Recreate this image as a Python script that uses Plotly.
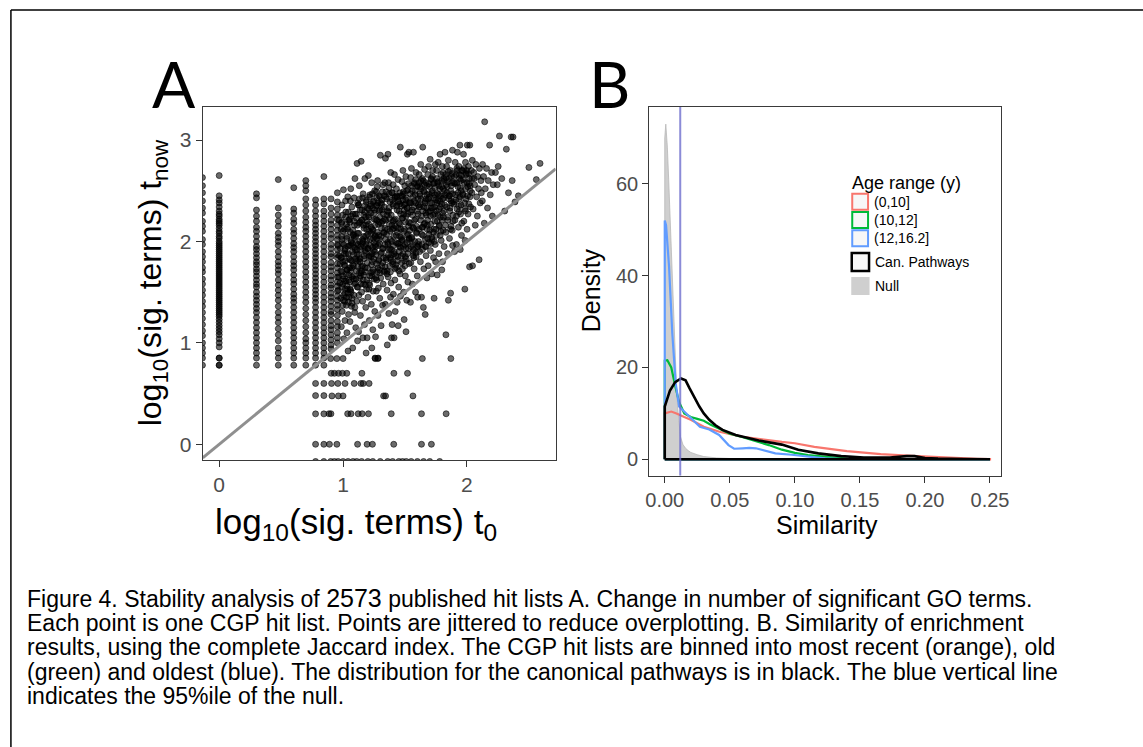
import plotly.graph_objects as go

W, H = 1143, 747


def px(x):
    return x / W


def py(y):
    return 1 - y / H


FONT = "Liberation Sans, Arial, Helvetica, sans-serif"

# ---------------- Panel A data: log10(sig. terms) at t0 (x) vs tnow (y) ----------------
# discrete columns of small t0 counts: (t0, list of tnow values)
left_columns = [
    (-0.135, [2.63, 2.55, 2.48, 2.40, 2.33, 2.28, 2.20, 2.15, 2.10, 2.02, 1.97, 1.90, 1.85, 1.80, 1.74, 1.70,
              1.63, 1.58, 1.52, 1.47, 1.41, 1.36, 1.30, 1.24, 1.18, 1.12, 1.07, 1.00, 0.95, 0.90, 0.85, 0.78]),
    (0.0, [2.65, 2.45, 2.41, 2.38, 2.34, 2.30, 2.27, 2.25, 2.22, 2.20, 2.18, 2.16, 2.13, 2.10, 2.08, 2.05, 2.03,
           2.00, 1.98, 1.96, 1.94, 1.92, 1.90, 1.88, 1.86, 1.84, 1.82, 1.80, 1.78, 1.76, 1.74, 1.72, 1.70, 1.68,
           1.66, 1.64, 1.62, 1.60, 1.58, 1.56, 1.54, 1.52, 1.50, 1.48, 1.46, 1.44, 1.42, 1.40, 1.38, 1.36, 1.34,
           1.32, 1.30, 1.28, 1.26, 1.23, 1.20, 1.17, 1.14, 1.11, 1.08, 1.04, 1.00, 0.96, 0.85, 0.78, 0.85, 0.78]),
    (0.301, [2.47, 2.43, 2.31, 2.25, 2.20, 2.14, 2.10, 2.05, 2.00, 1.95, 1.92, 1.88, 1.84, 1.80, 1.77, 1.73,
             1.70, 1.66, 1.62, 1.58, 1.55, 1.50, 1.46, 1.42, 1.38, 1.34, 1.30, 1.25, 1.20, 1.15, 1.10, 1.05,
             1.00, 0.95, 0.90, 0.85, 0.78]),
    (0.477, [2.61, 2.33, 2.26, 2.20, 2.15, 2.08, 2.04, 2.00, 1.96, 1.90, 1.85, 1.80, 1.76, 1.72, 1.68, 1.62,
             1.57, 1.52, 1.47, 1.42, 1.36, 1.30, 1.25, 1.20, 1.14, 1.08, 1.02, 0.95, 0.90, 0.85, 0.78]),
    (0.602, [2.53, 2.32, 2.28, 2.22, 2.18, 2.12, 2.08, 2.03, 1.98, 1.94, 1.90, 1.85, 1.80, 1.76, 1.72, 1.67,
             1.62, 1.58, 1.53, 1.48, 1.44, 1.40, 1.35, 1.30, 1.25, 1.20, 1.15, 1.10, 1.05, 1.00, 0.95, 0.90,
             0.85, 0.78]),
    (0.699, [2.60, 2.55, 2.50, 2.42, 2.36, 2.30, 2.24, 2.19, 2.14, 2.10, 2.05, 2.00, 1.95, 1.90, 1.85, 1.80,
             1.75, 1.70, 1.65, 1.60, 1.55, 1.50, 1.45, 1.40, 1.34, 1.28, 1.22, 1.16, 1.10, 1.04, 1.00, 0.95,
             0.90, 0.85, 0.78]),
    (0.778, [2.41, 2.36, 2.30, 2.25, 2.20, 2.16, 2.12, 2.08, 2.04, 2.00, 1.96, 1.92, 1.88, 1.84, 1.80, 1.76,
             1.72, 1.68, 1.64, 1.60, 1.56, 1.52, 1.48, 1.44, 1.40, 1.35, 1.30, 1.25, 1.20, 1.15, 1.10, 1.05,
             1.00, 0.95, 0.90, 0.85, 0.78, 0.60, 0.48, 0.30, 0.00, -0.17]),
    (0.845, [2.64, 2.42, 2.37, 2.30, 2.25, 2.20, 2.15, 2.10, 2.05, 2.00, 1.95, 1.90, 1.85, 1.80, 1.75, 1.70,
             1.65, 1.60, 1.55, 1.50, 1.45, 1.40, 1.35, 1.30, 1.25, 1.20, 1.15, 1.10, 1.05, 1.00, 0.95, 0.90,
             0.85, 0.78, 0.60, 0.48, 0.30, 0.00, -0.17]),
    (0.903, [2.42, 2.33, 2.27, 2.21, 2.17, 2.12, 2.07, 2.03, 1.97, 1.93, 1.88, 1.85, 1.79, 1.75, 1.71, 1.66,
             1.62, 1.57, 1.54, 1.49, 1.45, 1.41, 1.36, 1.31, 1.28, 1.22, 1.17, 1.13, 1.08, 1.03, 0.98, 0.94]),
    (0.954, [2.48, 2.39, 2.32, 2.26, 2.22, 2.16, 2.11, 2.06, 2.02, 1.97, 1.92, 1.87, 1.84, 1.78, 1.74, 1.69,
             1.65, 1.60, 1.56, 1.51, 1.46, 1.42, 1.37, 1.33, 1.27, 1.21, 1.16, 1.10, 1.05, 1.00]),
]

# continuous cloud of larger t0 counts: (t0, tnow) pairs, grouped in t0 bands
cloud_band_1 = [
    (1.003, 2.51), (0.991, 2.36), (1.022, 2.29), (1.038, 2.44), (0.987, 2.18), (1.011, 2.12), (1.045, 2.21),
    (1.029, 2.05), (0.995, 1.98), (1.017, 1.93), (1.041, 1.88), (0.984, 1.84), (1.008, 1.77), (1.033, 1.72),
    (1.049, 1.96), (0.998, 1.66), (1.024, 1.61), (0.989, 1.55), (1.013, 1.49), (1.036, 1.53), (1.002, 1.42),
    (1.027, 1.37), (0.993, 1.31), (1.044, 1.28), (1.015, 1.22), (0.986, 1.16), (1.031, 1.10), (1.006, 1.04),
    (1.040, 0.92), (0.997, 2.26), (1.020, 2.40), (1.047, 1.67), (0.982, 1.71), (1.035, 2.12), (1.010, 1.88),
    (0.999, 1.58), (1.026, 1.45), (1.043, 1.40), (0.990, 2.02), (1.019, 1.81),
    (1.062, 2.52), (1.089, 2.43), (1.113, 2.77), (1.071, 2.34), (1.097, 2.27), (1.055, 2.19), (1.118, 2.38),
    (1.080, 2.11), (1.104, 2.05), (1.066, 1.99), (1.092, 1.94), (1.115, 1.87), (1.058, 1.82), (1.084, 1.76),
    (1.109, 1.71), (1.073, 1.65), (1.099, 1.59), (1.061, 1.52), (1.087, 1.47), (1.111, 1.41), (1.068, 1.36),
    (1.094, 1.30), (1.056, 1.21), (1.102, 1.15), (1.078, 0.95), (1.117, 1.02), (1.064, 2.25), (1.091, 2.16),
    (1.107, 1.98), (1.075, 1.90), (1.053, 1.60), (1.100, 1.83), (1.083, 2.06), (1.069, 1.74), (1.114, 1.55),
    (1.059, 2.40), (1.096, 2.62), (1.086, 1.63), (1.072, 1.44), (1.108, 2.23),
]
cloud_band_2 = [
    (1.146, 2.79), (1.176, 2.62), (1.131, 2.55), (1.162, 2.47), (1.188, 2.41), (1.124, 2.36), (1.153, 2.31),
    (1.181, 2.24), (1.138, 2.19), (1.169, 2.13), (1.127, 2.08), (1.157, 2.02), (1.185, 1.97), (1.142, 1.92),
    (1.171, 1.86), (1.122, 1.81), (1.150, 1.75), (1.179, 1.70), (1.135, 1.64), (1.165, 1.58), (1.190, 1.53),
    (1.128, 1.47), (1.158, 1.41), (1.183, 1.35), (1.140, 1.27), (1.173, 1.18), (1.125, 1.11), (1.160, 1.05),
    (1.186, 0.90), (1.133, 2.42), (1.167, 2.05), (1.144, 1.69), (1.177, 1.91), (1.121, 1.97), (1.155, 2.21),
    (1.187, 2.16), (1.137, 1.83), (1.163, 1.62), (1.149, 1.50), (1.174, 2.35),
    (1.204, 2.65), (1.231, 2.58), (1.255, 2.50), (1.213, 2.44), (1.241, 2.39), (1.196, 2.33), (1.224, 2.28),
    (1.250, 2.22), (1.207, 2.17), (1.236, 2.12), (1.259, 2.06), (1.192, 2.01), (1.219, 1.96), (1.246, 1.91),
    (1.210, 1.85), (1.238, 1.80), (1.198, 1.74), (1.226, 1.69), (1.252, 1.63), (1.215, 1.57), (1.243, 1.51),
    (1.201, 1.45), (1.228, 1.38), (1.256, 1.31), (1.212, 1.22), (1.240, 1.13), (1.194, 1.05), (1.232, 0.95),
    (1.258, 0.85), (1.221, 2.35), (1.248, 1.99), (1.205, 2.26), (1.234, 1.88), (1.217, 1.66), (1.253, 2.31),
    (1.199, 1.93), (1.227, 2.08), (1.244, 1.72), (1.209, 1.53), (1.237, 2.47),
]
cloud_band_3 = [
    (1.301, 2.85), (1.279, 2.60), (1.322, 2.56), (1.268, 2.49), (1.291, 2.45), (1.315, 2.41), (1.274, 2.36),
    (1.298, 2.31), (1.326, 2.27), (1.263, 2.22), (1.286, 2.17), (1.310, 2.13), (1.329, 2.08), (1.271, 2.03),
    (1.294, 1.98), (1.318, 1.93), (1.266, 1.87), (1.289, 1.82), (1.313, 1.76), (1.277, 1.70), (1.304, 1.64),
    (1.324, 1.58), (1.269, 1.51), (1.296, 1.44), (1.319, 1.37), (1.282, 1.27), (1.307, 1.17), (1.262, 1.06),
    (1.283, 0.85), (1.276, 2.54), (1.303, 2.38), (1.320, 2.20), (1.288, 2.06), (1.264, 1.95), (1.311, 1.89),
    (1.293, 1.72), (1.272, 1.62), (1.327, 1.84), (1.299, 2.24), (1.285, 1.54),
    (1.342, 2.82), (1.362, 2.86), (1.385, 2.68), (1.337, 2.58), (1.371, 2.53), (1.394, 2.48), (1.348, 2.44),
    (1.378, 2.39), (1.333, 2.34), (1.359, 2.30), (1.389, 2.26), (1.345, 2.21), (1.374, 2.17), (1.398, 2.12),
    (1.352, 2.07), (1.381, 2.02), (1.338, 1.97), (1.366, 1.92), (1.392, 1.87), (1.349, 1.82), (1.377, 1.76),
    (1.335, 1.71), (1.364, 1.65), (1.387, 1.59), (1.355, 1.52), (1.383, 1.45), (1.341, 1.38), (1.369, 1.29),
    (1.396, 1.18), (1.357, 0.98), (1.391, 1.05), (1.346, 2.49), (1.372, 2.33), (1.360, 1.99), (1.397, 2.41),
    (1.339, 2.13), (1.380, 1.84), (1.354, 1.68), (1.393, 2.00), (1.367, 2.58),
]
cloud_band_4 = [
    (1.462, 2.93), (1.415, 2.66), (1.444, 2.61), (1.404, 2.56), (1.431, 2.52), (1.458, 2.48), (1.419, 2.44),
    (1.447, 2.40), (1.407, 2.35), (1.436, 2.31), (1.465, 2.27), (1.424, 2.22), (1.452, 2.18), (1.410, 2.13),
    (1.439, 2.09), (1.468, 2.04), (1.427, 1.99), (1.455, 1.95), (1.413, 1.90), (1.442, 1.85), (1.401, 1.80),
    (1.430, 1.74), (1.460, 1.68), (1.418, 1.62), (1.449, 1.55), (1.406, 1.48), (1.437, 1.40), (1.463, 1.46),
    (1.421, 1.31), (1.445, 1.17), (1.412, 1.05), (1.434, 2.45), (1.456, 2.37), (1.403, 2.20), (1.440, 1.98),
    (1.466, 2.12), (1.425, 1.77), (1.450, 1.71),
    (1.519, 2.86), (1.531, 2.88), (1.483, 2.70), (1.507, 2.64), (1.476, 2.59), (1.498, 2.55), (1.525, 2.51),
    (1.488, 2.47), (1.512, 2.43), (1.537, 2.39), (1.472, 2.35), (1.495, 2.31), (1.521, 2.27), (1.481, 2.23),
    (1.505, 2.19), (1.529, 2.15), (1.491, 2.10), (1.516, 2.06), (1.474, 2.02), (1.500, 1.97), (1.527, 1.93),
    (1.485, 1.88), (1.510, 1.83), (1.534, 1.78), (1.479, 1.73), (1.503, 1.66), (1.523, 1.60), (1.489, 1.50),
    (1.514, 1.42), (1.493, 1.23), (1.508, 1.11), (1.478, 2.45), (1.500, 2.37), (1.532, 2.02), (1.486, 1.95),
    (1.517, 2.33), (1.496, 1.81), (1.528, 2.57),
]
cloud_band_5 = [
    (1.568, 2.88), (1.552, 2.72), (1.589, 2.68), (1.545, 2.63), (1.575, 2.58), (1.601, 2.54), (1.558, 2.50),
    (1.583, 2.46), (1.606, 2.42), (1.548, 2.38), (1.572, 2.34), (1.596, 2.30), (1.561, 2.26), (1.586, 2.22),
    (1.543, 2.18), (1.569, 2.13), (1.593, 2.09), (1.555, 2.04), (1.580, 2.00), (1.604, 1.95), (1.565, 1.90),
    (1.590, 1.85), (1.547, 1.79), (1.574, 1.73), (1.599, 1.66), (1.559, 1.58), (1.585, 1.50), (1.544, 1.40),
    (1.602, 1.45), (1.577, 2.40), (1.551, 2.55), (1.592, 2.15), (1.563, 1.97), (1.608, 2.36), (1.571, 1.84),
    (1.587, 2.61),
    (1.643, 2.93), (1.627, 2.76), (1.658, 2.71), (1.614, 2.66), (1.640, 2.62), (1.668, 2.58), (1.621, 2.54),
    (1.650, 2.50), (1.676, 2.46), (1.631, 2.42), (1.661, 2.38), (1.617, 2.34), (1.645, 2.30), (1.672, 2.26),
    (1.626, 2.21), (1.654, 2.17), (1.679, 2.12), (1.635, 2.07), (1.664, 2.02), (1.612, 1.97), (1.641, 1.92),
    (1.670, 1.86), (1.624, 1.80), (1.652, 1.73), (1.677, 1.64), (1.633, 1.45), (1.663, 1.28), (1.648, 1.35),
    (1.619, 2.47), (1.657, 2.56), (1.674, 2.33), (1.638, 2.14), (1.666, 1.95), (1.629, 2.60),
]
cloud_band_6 = [
    (1.703, 2.81), (1.690, 2.74), (1.724, 2.70), (1.745, 2.76), (1.684, 2.66), (1.711, 2.62), (1.737, 2.58),
    (1.697, 2.54), (1.720, 2.50), (1.742, 2.46), (1.688, 2.42), (1.714, 2.38), (1.739, 2.34), (1.700, 2.30),
    (1.727, 2.26), (1.682, 2.21), (1.708, 2.17), (1.733, 2.12), (1.694, 2.07), (1.718, 2.02), (1.744, 1.97),
    (1.705, 1.91), (1.730, 1.84), (1.687, 1.76), (1.716, 1.68), (1.735, 1.44), (1.747, 1.80), (1.698, 2.44),
    (1.722, 2.64), (1.740, 2.20), (1.692, 1.99), (1.712, 2.33),
    (1.783, 2.86), (1.768, 2.78), (1.801, 2.74), (1.755, 2.70), (1.790, 2.66), (1.812, 2.62), (1.762, 2.58),
    (1.795, 2.54), (1.818, 2.50), (1.772, 2.46), (1.805, 2.42), (1.758, 2.38), (1.786, 2.34), (1.814, 2.30),
    (1.766, 2.26), (1.799, 2.21), (1.777, 2.16), (1.809, 2.11), (1.753, 2.06), (1.792, 2.01), (1.816, 1.95),
    (1.774, 1.88), (1.803, 1.80), (1.760, 1.67), (1.797, 1.72), (1.781, 2.52), (1.807, 2.68), (1.764, 2.40),
    (1.789, 2.10), (1.811, 2.24),
]
cloud_band_7 = [
    (1.823, 2.88), (1.883, 2.90), (1.850, 2.80), (1.836, 2.74), (1.866, 2.70), (1.828, 2.66), (1.856, 2.62),
    (1.880, 2.58), (1.841, 2.54), (1.870, 2.50), (1.825, 2.46), (1.853, 2.42), (1.877, 2.38), (1.838, 2.34),
    (1.862, 2.30), (1.887, 2.26), (1.846, 2.21), (1.872, 2.15), (1.830, 2.09), (1.859, 2.03), (1.884, 1.96),
    (1.843, 1.88), (1.868, 1.49), (1.850, 1.42), (1.875, 2.64), (1.833, 2.56), (1.860, 2.45), (1.881, 2.11),
    (1.943, 2.95), (1.923, 2.88), (1.905, 2.78), (1.935, 2.74), (1.958, 2.70), (1.912, 2.66), (1.941, 2.62),
    (1.897, 2.58), (1.927, 2.54), (1.953, 2.50), (1.908, 2.46), (1.938, 2.42), (1.893, 2.37), (1.920, 2.32),
    (1.948, 2.27), (1.903, 2.21), (1.931, 2.14), (1.956, 2.06), (1.915, 1.97), (1.946, 1.92), (1.900, 1.90),
    (1.950, 2.60), (1.918, 2.72), (1.934, 2.35),
]
cloud_band_8 = [
    (2.003, 2.95), (2.023, 2.95), (1.972, 2.86), (1.988, 2.78), (2.012, 2.74), (1.966, 2.70), (1.995, 2.66),
    (2.020, 2.62), (1.978, 2.58), (2.006, 2.54), (2.027, 2.50), (1.969, 2.46), (1.992, 2.42), (2.015, 2.37),
    (1.982, 2.32), (2.009, 2.27), (1.975, 2.20), (2.001, 2.12), (1.985, 2.01), (2.021, 1.75), (1.983, 1.53),
    (1.998, 2.70),
    (2.043, 2.80), (2.072, 2.76), (2.101, 2.72), (2.055, 2.68), (2.088, 2.64), (2.113, 2.60), (2.062, 2.56),
    (2.094, 2.52), (2.040, 2.48), (2.078, 2.44), (2.107, 2.38), (2.050, 2.32), (2.084, 2.25), (2.067, 2.16),
    (2.098, 1.82), (2.045, 1.76), (2.116, 2.48), (2.058, 2.62),
    (2.143, 3.18), (2.183, 2.95), (2.126, 2.76), (2.158, 2.72), (2.199, 2.68), (2.134, 2.64), (2.172, 2.60),
    (2.212, 2.56), (2.148, 2.52), (2.188, 2.46), (2.124, 2.40), (2.166, 2.33), (2.205, 2.25), (2.140, 2.18),
    (2.230, 2.68), (2.262, 3.04), (2.245, 2.56), (2.281, 2.62), (2.318, 2.91), (2.305, 2.30), (2.357, 3.03),
    (2.372, 3.03), (2.335, 2.48), (2.388, 2.39), (2.365, 2.60), (2.252, 2.74), (2.500, 2.73), (2.560, 2.61),
    (2.590, 2.77), (2.415, 2.45),
]
# the densest part of the cloud
cloud_core = [
    (0.962, 1.52), (0.975, 1.78), (0.988, 2.05), (1.001, 1.63), (1.014, 1.91), (1.027, 2.17), (1.040, 1.49),
    (1.053, 1.74), (1.066, 2.01), (1.079, 2.27), (1.092, 1.58), (0.968, 2.21), (0.981, 1.44), (0.994, 1.70),
    (1.007, 1.97), (1.020, 2.24), (1.033, 1.56), (1.046, 1.83), (1.059, 2.09), (1.072, 1.39), (1.085, 1.66),
    (1.098, 1.92), (0.971, 1.86), (0.984, 2.12), (0.997, 1.37), (1.010, 1.61), (1.023, 1.88), (1.036, 2.14),
    (1.049, 1.45), (1.062, 1.71), (1.075, 1.98), (1.088, 2.20), (0.965, 1.65), (0.978, 1.93), (0.991, 2.19),
    (1.004, 1.47), (1.017, 1.76), (1.030, 2.03), (1.043, 2.29), (1.056, 1.53), (1.069, 1.81), (1.082, 2.07),
    (1.095, 1.35), (0.974, 1.59), (0.987, 1.84), (1.000, 2.10), (1.013, 1.41), (1.026, 1.68), (1.039, 1.95),
    (1.052, 2.22), (1.065, 1.50), (1.078, 1.77), (1.091, 2.04), (0.958, 1.96), (1.047, 1.62), (1.084, 1.87),
    (1.018, 1.53), (1.060, 1.96), (0.999, 1.80), (1.033, 1.72),
    (1.104, 1.63), (1.117, 2.08), (1.129, 1.87), (1.138, 2.31), (1.151, 1.71), (1.163, 2.16), (1.172, 1.95),
    (1.186, 2.39), (1.195, 1.79), (1.208, 2.24), (1.219, 2.02), (1.233, 1.66), (1.241, 2.11), (1.256, 1.90),
    (1.268, 2.35), (1.281, 1.74), (1.293, 2.19), (1.109, 2.27), (1.121, 1.75), (1.134, 2.00), (1.146, 1.58),
    (1.158, 2.43), (1.169, 1.83), (1.181, 2.05), (1.192, 1.62), (1.205, 2.32), (1.214, 1.86), (1.227, 2.14),
    (1.238, 1.70), (1.250, 2.40), (1.262, 1.97), (1.274, 2.21), (1.287, 1.81), (1.298, 2.44), (1.112, 1.92),
    (1.125, 2.36), (1.140, 1.66), (1.154, 1.98), (1.166, 2.26), (1.178, 1.74), (1.190, 2.12), (1.201, 1.93),
    (1.216, 2.46), (1.229, 1.77), (1.244, 2.03), (1.253, 2.28), (1.265, 1.64), (1.277, 2.09), (1.290, 2.30),
    (1.107, 1.81), (1.119, 1.55), (1.132, 2.18), (1.143, 1.95), (1.156, 1.76), (1.175, 2.29), (1.184, 1.89),
    (1.198, 2.07), (1.211, 1.59), (1.223, 2.37), (1.236, 1.94), (1.247, 1.83), (1.259, 2.16), (1.271, 2.43),
    (1.284, 1.96), (1.296, 1.69), (1.115, 2.16), (1.131, 1.69), (1.149, 2.21), (1.161, 2.00), (1.180, 1.57),
    (1.196, 2.20), (1.213, 2.10), (1.226, 1.85), (1.239, 2.33), (1.258, 2.05), (1.270, 1.78), (1.283, 2.38),
    (1.295, 2.02), (1.137, 1.80), (1.167, 1.67),
    (1.304, 1.88), (1.316, 2.31), (1.327, 2.09), (1.339, 1.75), (1.351, 2.42), (1.362, 1.97), (1.374, 2.23),
    (1.386, 1.82), (1.397, 2.48), (1.409, 2.05), (1.420, 1.73), (1.432, 2.35), (1.444, 2.13), (1.455, 1.90),
    (1.467, 2.45), (1.478, 2.01), (1.490, 2.27), (1.502, 1.85), (1.513, 2.50), (1.525, 2.07), (1.537, 2.38),
    (1.548, 1.95), (1.309, 2.18), (1.321, 1.79), (1.333, 2.45), (1.344, 2.02), (1.356, 1.71), (1.368, 2.29),
    (1.379, 2.10), (1.391, 1.92), (1.403, 2.37), (1.414, 2.21), (1.426, 1.86), (1.437, 2.44), (1.449, 1.98),
    (1.461, 2.17), (1.472, 1.79), (1.484, 2.41), (1.495, 2.12), (1.507, 1.93), (1.519, 2.33), (1.530, 2.19),
    (1.542, 2.47), (1.312, 2.37), (1.324, 1.93), (1.336, 2.22), (1.347, 1.84), (1.359, 2.12), (1.371, 2.47),
    (1.382, 1.70), (1.394, 2.16), (1.406, 1.96), (1.417, 2.43), (1.429, 2.06), (1.441, 1.81), (1.452, 2.30),
    (1.464, 1.94), (1.476, 2.23), (1.487, 2.49), (1.499, 1.76), (1.510, 2.25), (1.522, 1.88), (1.534, 2.03),
    (1.546, 2.29), (1.306, 2.05), (1.330, 1.70), (1.353, 2.26), (1.377, 1.93), (1.400, 1.78), (1.423, 2.15),
    (1.447, 2.39), (1.470, 1.86), (1.493, 2.36), (1.516, 1.99), (1.540, 2.11), (1.318, 2.49), (1.365, 1.87),
    (1.412, 1.88), (1.458, 2.05), (1.505, 2.41),
    (1.553, 2.03), (1.565, 2.44), (1.577, 2.21), (1.589, 1.89), (1.600, 2.55), (1.612, 2.12), (1.624, 2.36),
    (1.636, 1.97), (1.647, 2.60), (1.659, 2.18), (1.671, 2.42), (1.683, 2.03), (1.694, 2.57), (1.706, 2.25),
    (1.718, 2.48), (1.730, 2.09), (1.741, 2.53), (1.753, 2.30), (1.765, 2.59), (1.777, 2.15), (1.789, 2.45),
    (1.558, 2.31), (1.570, 1.92), (1.582, 2.50), (1.594, 2.08), (1.606, 2.27), (1.618, 1.90), (1.630, 2.52),
    (1.641, 2.14), (1.653, 2.34), (1.665, 1.95), (1.677, 2.55), (1.689, 2.29), (1.700, 2.11), (1.712, 2.61),
    (1.724, 2.33), (1.736, 2.00), (1.748, 2.41), (1.760, 2.20), (1.772, 2.55), (1.784, 2.06), (1.796, 2.37),
    (1.562, 2.14), (1.586, 2.38), (1.609, 2.00), (1.633, 2.25), (1.656, 2.49), (1.680, 2.16), (1.703, 2.38),
    (1.727, 2.57), (1.750, 2.12), (1.774, 2.32), (1.797, 2.60), (1.574, 2.57), (1.598, 1.95), (1.621, 2.45),
    (1.645, 2.06), (1.668, 2.28), (1.692, 2.47), (1.715, 2.04), (1.739, 2.27), (1.762, 2.47), (1.786, 2.24),
    (1.567, 1.86), (1.615, 2.58), (1.662, 2.40), (1.709, 1.98), (1.756, 2.62), (1.780, 2.40), (1.733, 2.43),
    (1.803, 2.28), (1.815, 2.60), (1.827, 2.16), (1.839, 2.48), (1.851, 2.69), (1.863, 2.33), (1.875, 2.55),
    (1.887, 2.20), (1.898, 2.64), (1.910, 2.41), (1.922, 2.70), (1.934, 2.29), (1.946, 2.53), (1.958, 2.18),
    (1.969, 2.61), (1.981, 2.38), (1.993, 2.67), (2.005, 2.45), (2.017, 2.57), (2.029, 2.34), (2.041, 2.62),
    (1.808, 2.52), (1.820, 2.36), (1.832, 2.63), (1.844, 2.24), (1.856, 2.45), (1.868, 2.12), (1.880, 2.67),
    (1.892, 2.39), (1.904, 2.57), (1.916, 2.25), (1.928, 2.48), (1.940, 2.66), (1.952, 2.36), (1.964, 2.47),
    (1.976, 2.72), (1.988, 2.30), (2.000, 2.58), (2.012, 2.67), (2.024, 2.44), (2.036, 2.70), (1.812, 2.43),
    (1.848, 2.59), (1.884, 2.47), (1.919, 2.58), (1.955, 2.65), (1.990, 2.52), (2.026, 2.55), (1.871, 2.40),
    (1.943, 2.44),
]

# horizontal rows at small tnow counts: (tnow, list of t0 values)
low_rows = [
    (0.845, [0.90, 0.95, 1.00, 1.26, 1.28, 1.64, 1.87]),
    (1.08, [1.83]),
    (0.70, [0.904, 0.930, 0.963, 0.995, 1.030, 1.152, 1.410, 1.520]),
    (0.60, [0.907, 0.958, 1.016, 1.090, 1.144, 1.162, 1.210]),
    (0.477, [0.910, 0.962, 1.000, 1.327, 1.343, 1.564]),
    (0.301, [0.886, 0.902, 1.037, 1.064, 1.122, 1.154, 1.205, 1.389, 1.633, 1.832]),
    (0.0, [0.890, 0.950, 1.117, 1.194, 1.237, 1.409, 1.633, 1.713]),
    (-0.17, [0.90, 0.93, 0.96, 1.00, 1.04, 1.08, 1.11, 1.15, 1.20, 1.24, 1.30, 1.36, 1.40, 1.45, 1.48,
             1.51, 1.55, 1.60, 1.65, 1.70, 1.78]),
]

# ---------------- Panel B data: density of similarity ----------------
null_x = [0, 0.0008, 0.002, 0.003, 0.004, 0.005, 0.006, 0.007, 0.008, 0.009, 0.010, 0.011, 0.012, 0.014,
          0.016, 0.018, 0.020, 0.025, 0.030, 0.040, 0.050, 0.060, 0.080]
null_y = [70, 73, 68, 61, 53, 45, 37, 29, 22, 16, 11, 7.5, 5, 3.2, 2.4, 1.9, 1.5, 1.0, 0.6, 0.3, 0.12, 0.05, 0]

red_x = [0, 0.005, 0.009, 0.015, 0.020, 0.030, 0.042, 0.060, 0.075, 0.090, 0.100, 0.115, 0.140, 0.166,
         0.190, 0.216, 0.240, 0.250]
red_y = [10.0, 10.4, 10.0, 9.2, 8.6, 7.1, 6.0, 4.9, 4.3, 3.8, 3.5, 2.7, 1.8, 1.15, 0.75, 0.35, 0.12, 0.05]

green_x = [0, 0.002, 0.005, 0.008, 0.011, 0.015, 0.020, 0.025, 0.030, 0.035, 0.040, 0.050, 0.060, 0.070,
           0.080, 0.090, 0.100, 0.110, 0.120, 0.130, 0.140, 0.150, 0.170, 0.200, 0.250]
green_y = [21.5, 21.6, 20, 16, 12.5, 10, 9.2, 8.8, 8.4, 7.6, 6.9, 5.6, 4.8, 4.0, 3.1, 2.1, 1.4, 0.9, 0.6,
           0.35, 0.15, 0.05, 0.02, 0, 0]

blue_x = [0, 0.001, 0.0033, 0.0058, 0.0084, 0.011, 0.0165, 0.0216, 0.027, 0.0342, 0.0418, 0.049, 0.0533,
          0.060, 0.065, 0.070, 0.077, 0.085, 0.0976, 0.110, 0.123, 0.136, 0.150, 0.200, 0.250]
blue_y = [52, 51, 42, 27.4, 16.6, 11.5, 10.0, 8.6, 7.1, 6.5, 5.3, 3.1, 2.3, 2.4, 2.5, 2.4, 1.9, 1.3, 1.0,
          0.6, 0.2, 0.05, 0.02, 0, 0]

can_x = [0, 0.004, 0.008, 0.0125, 0.016, 0.019, 0.023, 0.0266, 0.030, 0.0342, 0.039, 0.0444, 0.0545,
         0.0722, 0.090, 0.1026, 0.118, 0.1356, 0.153, 0.173, 0.186, 0.192, 0.200, 0.210, 0.230, 0.250]
can_y = [11.5, 15, 16.8, 17.6, 17.2, 15.5, 13.3, 11.5, 10.0, 8.6, 7.4, 6.4, 5.3, 4.1, 3.2, 2.1, 1.3, 0.7,
         0.4, 0.4, 0.7, 0.7, 0.3, 0.15, 0.05, 0]

null_q95 = 0.0119

age_labels = ["(0,10]", "(10,12]", "(12,16.2]"]
age_colors = ["#F8766D", "#00BA38", "#619CFF"]

# ---------------- build figure ----------------
fig = go.Figure()

pt_x, pt_y = [], []
for t0, ys in left_columns:
    for v in ys:
        pt_x.append(t0)
        pt_y.append(v)
for band in (cloud_band_1, cloud_band_2, cloud_band_3, cloud_band_4, cloud_band_5, cloud_band_6,
             cloud_band_7, cloud_band_8, cloud_core):
    for a, b in band:
        pt_x.append(a)
        pt_y.append(b)
for tn, xs in low_rows:
    for v in xs:
        pt_x.append(v)
        pt_y.append(tn)

fig.add_trace(go.Scatter(
    x=pt_x, y=pt_y, mode="markers", xaxis="x", yaxis="y",
    marker=dict(size=6, color="rgba(0,0,0,0.58)", line=dict(width=1, color="rgba(0,0,0,0.58)")),
    showlegend=False, hoverinfo="skip"))

x_rng_a = [-0.133, 2.716]
y_rng_a = [-0.155, 3.326]
fig.add_trace(go.Scatter(
    x=[x_rng_a[0], x_rng_a[1]], y=[x_rng_a[0], x_rng_a[1]], mode="lines", xaxis="x", yaxis="y",
    line=dict(color="#8f8f8f", width=3), showlegend=False, hoverinfo="skip"))


def closed(xs, ys):
    return [xs[0]] + list(xs) + [xs[-1], xs[0]], [0] + list(ys) + [0, 0]


nx, ny = closed(null_x, null_y)
fig.add_trace(go.Scatter(x=nx, y=ny, mode="lines", fill="toself", fillcolor="#cfcfcf",
                         line=dict(color="#b8b8b8", width=0.8), xaxis="x2", yaxis="y2",
                         showlegend=False, hoverinfo="skip"))

for xs, ys, col in [(red_x, red_y, age_colors[0]), (green_x, green_y, age_colors[1]),
                    (blue_x, blue_y, age_colors[2])]:
    cx, cy = closed(xs, ys)
    fig.add_trace(go.Scatter(x=cx, y=cy, mode="lines", line=dict(color=col, width=2.2),
                             xaxis="x2", yaxis="y2", showlegend=False, hoverinfo="skip"))

cx, cy = closed(can_x, can_y)
fig.add_trace(go.Scatter(x=cx, y=cy, mode="lines", line=dict(color="black", width=2.6),
                         xaxis="x2", yaxis="y2", showlegend=False, hoverinfo="skip"))

y_rng_b = [-3.57, 76.8]
fig.add_trace(go.Scatter(x=[null_q95, null_q95], y=y_rng_b, mode="lines",
                         line=dict(color="rgba(110,110,205,0.8)", width=2),
                         xaxis="x2", yaxis="y2", showlegend=False, hoverinfo="skip"))

axis_common = dict(showline=True, mirror=True, linecolor="#3a3a3a", linewidth=1.3, showgrid=False,
                   zeroline=False, ticks="outside", ticklen=6, tickcolor="#333333", tickwidth=1.2)

fig.update_layout(
    width=W, height=H, margin=dict(l=0, r=0, t=0, b=0), paper_bgcolor="white", plot_bgcolor="white",
    font=dict(family=FONT),
    xaxis=dict(domain=[px(201), px(558)], range=x_rng_a, tickvals=[0, 1, 2], anchor="y",
               tickfont=dict(size=21, color="#4d4d4d", family=FONT), **axis_common),
    yaxis=dict(domain=[py(460), py(107)], range=y_rng_a, tickvals=[0, 1, 2, 3], anchor="x",
               tickfont=dict(size=21, color="#4d4d4d", family=FONT), **axis_common),
    xaxis2=dict(domain=[px(652.7), px(1008)], range=[-0.0119, 0.2581],
                tickvals=[0, 0.05, 0.10, 0.15, 0.20, 0.25], tickformat=".2f", anchor="y2",
                tickfont=dict(size=20, color="#4d4d4d", family=FONT), **axis_common),
    yaxis2=dict(domain=[py(475.7), py(106.7)], range=y_rng_b, tickvals=[0, 20, 40, 60], anchor="x2",
                tickfont=dict(size=20, color="#4d4d4d", family=FONT), **axis_common),
)

ann = []
ann.append(dict(text="A", x=px(172), y=py(84), xanchor="center", yanchor="middle",
                font=dict(family="Lato, Open Sans, sans-serif", size=64, color="black")))
ann.append(dict(text="B", x=px(612), y=py(84), xanchor="center", yanchor="middle",
                font=dict(family="Lato, Open Sans, sans-serif", size=64, color="black")))
ann.append(dict(text="log<sub>10</sub>(sig. terms) t<sub>now</sub>", x=px(150), y=py(283), textangle=-90,
                xanchor="center", yanchor="middle", font=dict(size=32, color="black")))
ann.append(dict(text="log<sub>10</sub>(sig. terms) t<sub>0</sub>", x=px(356), y=py(524),
                xanchor="center", yanchor="middle", font=dict(size=35, color="black")))
ann.append(dict(text="Density", x=px(594), y=py(290), textangle=-90,
                xanchor="center", yanchor="middle", font=dict(size=25, color="black")))
ann.append(dict(text="Similarity", x=px(832), y=py(525),
                xanchor="center", yanchor="middle", font=dict(size=25, color="black")))

# legend (manual)
ann.append(dict(text="Age range (y)", x=px(856), y=py(183), xanchor="left", yanchor="middle",
                font=dict(size=18, color="black")))
shapes = []
leg_rows = [201.7, 220.0, 238.3]
for lab, col, yc in zip(age_labels, age_colors, leg_rows):
    shapes.append(dict(type="rect", xref="paper", yref="paper", x0=px(858), x1=px(874),
                       y0=py(yc + 8), y1=py(yc - 8), line=dict(color=col, width=2), fillcolor="#f7f7f7"))
    ann.append(dict(text=lab, x=px(878), y=py(yc), xanchor="left", yanchor="middle",
                    font=dict(size=14, color="black")))
shapes.append(dict(type="rect", xref="paper", yref="paper", x0=px(857.5), x1=px(875),
                   y0=py(271), y1=py(253), line=dict(color="black", width=2.5), fillcolor="#f7f7f7"))
ann.append(dict(text="Can. Pathways", x=px(879), y=py(262), xanchor="left", yanchor="middle",
                font=dict(size=14, color="black")))
shapes.append(dict(type="rect", xref="paper", yref="paper", x0=px(857), x1=px(875.5),
                   y0=py(295), y1=py(277), line=dict(width=0), fillcolor="#cfcfcf"))
ann.append(dict(text="Null", x=px(879), y=py(286), xanchor="left", yanchor="middle",
                font=dict(size=14, color="black")))

# outer frame (top and left edges visible)
shapes.append(dict(type="line", xref="paper", yref="paper", x0=px(7), x1=1.01, y0=py(10), y1=py(10),
                   line=dict(color="black", width=1.5)))
shapes.append(dict(type="line", xref="paper", yref="paper", x0=px(7), x1=px(7), y0=py(10), y1=-0.01,
                   line=dict(color="black", width=1.5)))

caption = [
    "Figure 4. Stability analysis of <span style='font-size:25px'>2573</span> published hit lists A. Change in number of significant GO terms.",
    "Each point is one CGP hit list. Points are jittered to reduce overplotting. B. Similarity of enrichment",
    "results, using the complete Jaccard index. The CGP hit lists are binned into most recent (orange), old",
    "(green) and oldest (blue). The distribution for the canonical pathways is in black. The blue vertical line",
    "indicates the 95%ile of the null.",
]
cap_y = [598, 622.5, 647, 671.5, 696]
for line, yc in zip(caption, cap_y):
    ann.append(dict(text=line, x=px(21), y=py(yc), xanchor="left", yanchor="middle", showarrow=False,
                    font=dict(size=23, color="black")))

for a in ann:
    a.setdefault("xref", "paper")
    a.setdefault("yref", "paper")
    a["showarrow"] = False

fig.update_layout(annotations=ann, shapes=shapes)
fig.write_html("out.html")
